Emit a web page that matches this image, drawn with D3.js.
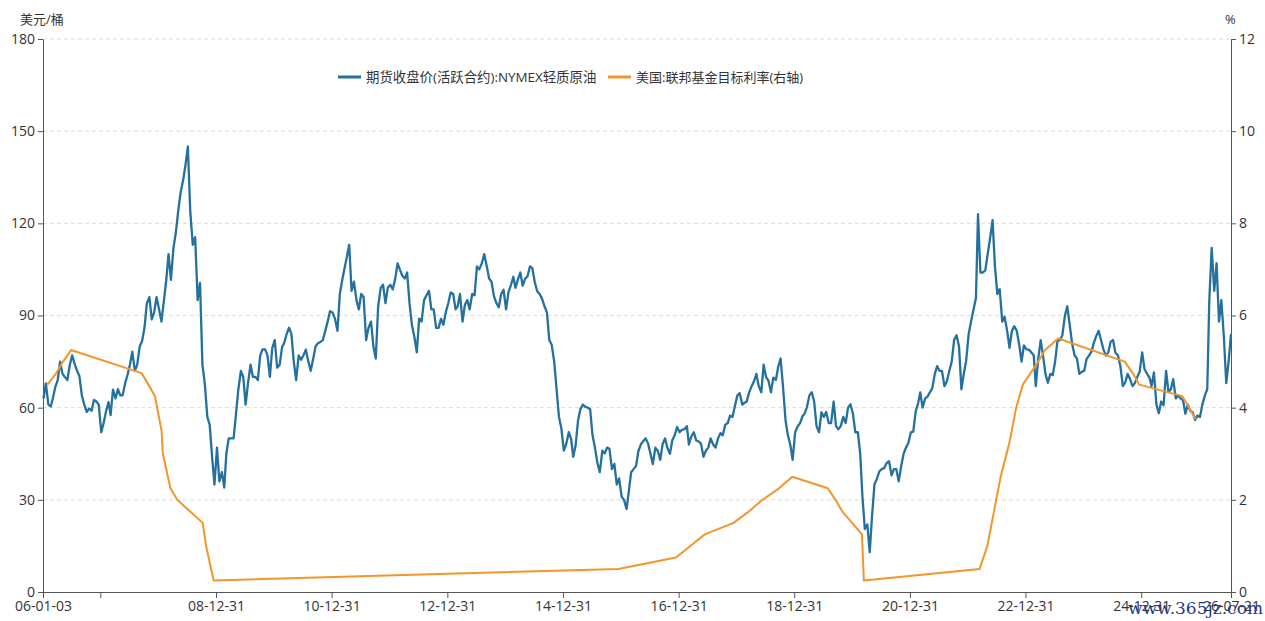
<!DOCTYPE html>
<html>
<head>
<meta charset="utf-8">
<script src="https://d3js.org/d3.v7.min.js"></script>
<style>
  body { margin: 0; background: #fff; }
  text { font-family: "Open Sans", "Noto Sans CJK SC", sans-serif; }
</style>
</head>
<body>
<svg width="1265" height="621"></svg>
<script>
// NYMEX WTI, two readings per month (early / late)
const years = [2006,2007,2008,2009,2010,2011,2012,2013,2014,2015,2016,2017,2018,2019,2020,2021,2022,2023,2024,2025,2026];
const wti2006 = [63,67.9, 61,60.4, 63,66.6, 69,75, 71,70, 69,73.9, 77,74.4, 72,70.3, 63.8,61, 58.6,59.7, 59,62.5, 62,61];
const wti2007 = [52,55, 59,61.8, 57.6,65.9, 63,66, 64,64, 68,70.7, 74,78.2, 72,74, 80,81.7, 86,94, 96,88.7, 91,96];
const wti2008 = [92,88, 95,101.8, 110,101.6, 112,117, 124,130, 134,139, 145,124, 113,115.5, 95,100.6, 74,67.8, 57,54.4, 44,35];
const wti2009 = [47,36, 39,34, 45,50, 50,50, 58,66, 72,69.9, 61,68, 74,70, 70,69, 77,79, 79,77, 70,79.4];
const wti2010 = [82,73, 74,79.7, 81,83.8, 86,84, 75,69, 77,75.6, 77,78.9, 75,72, 76,80, 81,81.4, 82,85, 88,91.4];
const wti2011 = [91,89, 85,97, 101,105, 109,113, 98,101, 95,92, 97,96, 82,86, 88,80, 76,93, 99,100, 94,99];
const wti2012 = [100,98.5, 102,107, 105,103, 102,104, 94,87, 83,78, 89,88, 95,96.5, 98,92, 92,86, 86,88.9, 87,91];
const wti2013 = [94,97.5, 97,92, 93,97, 88,93.5, 95,92, 97,96.6, 106,105, 107,110, 106,102, 101,96.4, 94,92.7, 97,98.4];
const wti2014 = [92,97.5, 100,102.6, 99,101.6, 104,99.7, 102,102.7, 106,105.4, 101,98, 97,95.5, 93,91, 82,80.5, 75,66, 57,53.3];
const wti2015 = [46,48.2, 52,49.8, 44,47.6, 56,59.6, 61,60.3, 60,59.5, 51,47.1, 42,39, 46,45.1, 47,46.6, 40,41.7, 35,37];
const wti2016 = [31,30, 27,33, 39,40, 41,45.9, 48,49.1, 50,48.3, 45,41.6, 47,46, 43,48.2, 50,46.9, 45,49.4, 51,53.7];
const wti2017 = [52,52.8, 53,54, 48,50.6, 52,49.3, 49,48.3, 44,46, 47,50, 48,47, 50,51.7, 51,54.4, 55,57.4, 57,60.4];
const wti2018 = [64,64.7, 61,61.6, 62,64.9, 67,68.6, 71,67, 65,74, 70,68.8, 65,69.8, 69,73.3, 76,67, 56,51, 48,43];
const wti2019 = [52,53.8, 55,57.2, 58,60.1, 64,65, 62,54, 52,58.5, 57,58.6, 55,55, 62,54, 53,54, 57,55, 60,61.1];
const wti2020 = [58,52, 52,45, 31,20.5, 22,13, 25,35, 37,39.3, 40,40.3, 42,42.6, 38,40, 40,36, 41,45, 47,48.5];
const wti2021 = [52,52.2, 59,61.5, 65,60, 63,63.6, 65,66.3, 71,73.5, 72,72, 67,68.5, 72,75, 82,83.6, 80,66, 71,75.2];
const wti2022 = [84,88, 92,95.7, 123,104, 104,104.7, 110,115, 121,106, 97,98.6, 88,89.6, 85,79.5, 85,86.5, 85,80.5, 75,80.3];
const wti2023 = [79,78.9, 78,77, 67,75.7, 82,76.8, 71,68.1, 71,70.6, 75,81.8, 82,83.6, 90,93, 87,81, 77,76, 71,71.65];
const wti2024 = [72,75.9, 77,78.3, 81,83.2, 85,82, 79,77, 78,81.5, 82,77.9, 77,73.6, 67,68.2, 71,69.3, 67,68, 70,71.7];
const wti2025 = [78,72.5, 71,69.8, 67,71.5, 61,58.2, 62,60.8, 72,65.1, 66,69.3, 63,64, 63,62.4, 58,61, 59,58.5, 56,57.4];
const wti2026 = [57,61, 64,66, 95,112, 98,107, 88,95, 83,68, 75,84];
const wtiByYear = [wti2006,wti2007,wti2008,wti2009,wti2010,wti2011,wti2012,wti2013,wti2014,wti2015,wti2016,
                   wti2017,wti2018,wti2019,wti2020,wti2021,wti2022,wti2023,wti2024,wti2025,wti2026];

// fed funds target rate: dates of change and new level
const fedDates = ["2006-01-31","2006-03-28","2006-05-10","2006-06-29","2007-09-18","2007-10-31","2007-12-11",
  "2008-01-22","2008-01-30","2008-03-18","2008-04-30","2008-10-08","2008-10-29","2008-12-16","2015-12-16",
  "2016-12-14","2017-03-15","2017-06-14","2017-12-13","2018-03-21","2018-06-13","2018-09-26","2018-12-19",
  "2019-07-31","2019-09-18","2019-10-30","2020-03-03","2020-03-15","2022-03-16","2022-05-04","2022-06-15",
  "2022-07-27","2022-09-21","2022-11-02","2022-12-14","2023-02-01","2023-03-22","2023-05-03","2023-07-26",
  "2024-09-18","2024-11-07","2024-12-18","2025-09-17","2025-10-29","2025-12-10"];
const fedRates = [4.5,4.75,5,5.25,4.75,4.5,4.25,
  3.5,3,2.25,2,1.5,1,0.25,0.5,
  0.75,1,1.25,1.5,1.75,2,2.25,2.5,
  2.25,2,1.75,1.25,0.25,0.5,1,1.75,
  2.5,3.25,4,4.5,4.75,5,5.25,5.5,
  5,4.75,4.5,4.25,4,3.75];

const leftTicks = [0,30,60,90,120,150,180];
const rightTicks = [0,2,4,6,8,10,12];
const xTickDates = ["2006-01-03","2006-12-31","2008-12-31","2010-12-31","2012-12-31","2014-12-31",
  "2016-12-31","2018-12-31","2020-12-31","2022-12-31","2024-12-31","2026-07-21"];
const xTickLabels = ["06-01-03","","08-12-31","10-12-31","12-12-31","14-12-31",
  "16-12-31","18-12-31","20-12-31","22-12-31","24-12-31","26-07-21"];

const blue = "#24709f", orange = "#f2952c";
const parse = d3.timeParse("%Y-%m-%d");

const svg = d3.select("svg");
const x = d3.scaleTime().domain([parse("2006-01-03"), parse("2026-07-21")]).range([43, 1231]);
const yL = d3.scaleLinear().domain([0, 180]).range([592, 39]);
const yR = d3.scaleLinear().domain([0, 12]).range([592, 39]);

// build oil points: early reading on the 6th, late on the 21st
var oil = [];
wtiByYear.forEach(function(arr, yi) {
  arr.forEach(function(v, i) {
    var m = Math.floor(i / 2);
    oil.push({ date: new Date(years[yi], m, i % 2 === 0 ? 6 : 21), v: v });
  });
});
var fed = fedDates.map(function(d, i) { return { date: parse(d), v: fedRates[i] }; });

// grid
svg.append("g")
  .selectAll("line")
  .data(leftTicks.slice(1))
  .enter()
  .append("line")
  .attr("x1", 43).attr("x2", 1231)
  .attr("y1", d => yL(d)).attr("y2", d => yL(d))
  .attr("stroke", "#dcdcdc")
  .attr("stroke-dasharray", "4,3");

// axes
function styleAxis(g) {
  g.select(".domain").attr("stroke", "#555");
  g.selectAll(".tick line").attr("stroke", "#555");
  g.selectAll(".tick text").attr("fill", "#333").style("font-size", "14px");
}
svg.append("g")
  .attr("transform", "translate(43,0)")
  .call(d3.axisLeft(yL).tickValues(leftTicks).tickSize(5).tickSizeOuter(0).tickPadding(3))
  .call(styleAxis);
svg.append("g")
  .attr("transform", "translate(1231,0)")
  .call(d3.axisRight(yR).tickValues(rightTicks).tickSize(5).tickSizeOuter(0).tickPadding(3))
  .call(styleAxis);
svg.append("g")
  .attr("transform", "translate(0,592)")
  .call(d3.axisBottom(x).tickValues(xTickDates.map(parse))
    .tickFormat((d, i) => xTickLabels[i]).tickSize(6).tickSizeOuter(0).tickPadding(3))
  .call(styleAxis);

// lines
svg.append("path")
  .datum(oil)
  .attr("fill", "none")
  .attr("stroke", blue)
  .attr("stroke-width", 2.3)
  .attr("stroke-linejoin", "round")
  .attr("d", d3.line().x(d => x(d.date)).y(d => yL(d.v)));
svg.append("path")
  .datum(fed)
  .attr("fill", "none")
  .attr("stroke", orange)
  .attr("stroke-width", 2)
  .attr("stroke-linejoin", "round")
  .attr("d", d3.line().x(d => x(d.date)).y(d => yR(d.v)));

// axis titles
svg.append("text").attr("x", 20).attr("y", 24).attr("fill", "#333").style("font-size", "13px").text("美元/桶");
svg.append("text").attr("x", 1225).attr("y", 24).attr("fill", "#333").style("font-size", "13px").text("%");

// legend
var legend = [
  { name: "期货收盘价(活跃合约):NYMEX轻质原油", color: blue, x: 338, size: "13.4px" },
  { name: "美国:联邦基金目标利率(右轴)", color: orange, x: 608, size: "13px" }
];
var lg = svg.append("g").selectAll("g").data(legend).enter().append("g");
lg.append("line")
  .attr("x1", d => d.x).attr("x2", d => d.x + 23)
  .attr("y1", 77).attr("y2", 77)
  .attr("stroke", d => d.color).attr("stroke-width", 3);
lg.append("text")
  .attr("x", d => d.x + 28).attr("y", 82)
  .attr("fill", "#333").style("font-size", d => d.size)
  .text(d => d.name);

// watermark
svg.append("text").attr("x", 1263).attr("y", 614).attr("text-anchor", "end")
  .attr("fill", "#1d3b86").style("font-family", "DejaVu Serif").style("font-size", "17px")
  .text("www.365jz.com");
</script>
</body>
</html>
